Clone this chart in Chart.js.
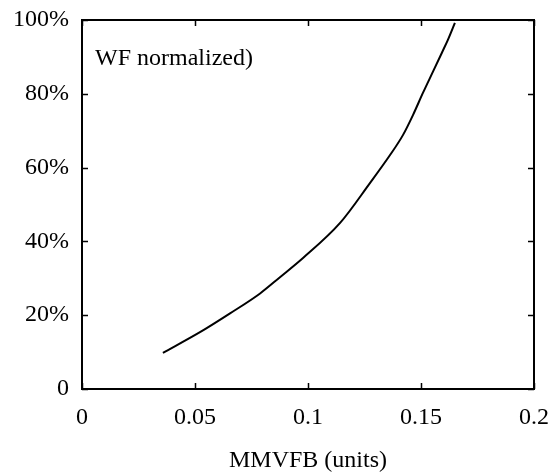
<!DOCTYPE html>
<html>
<head>
<meta charset="utf-8">
<script src="https://cdn.jsdelivr.net/npm/chart.js@4.4.1/dist/chart.umd.min.js"></script>
<style>
html,body{margin:0;padding:0;background:#fff;}
#wrap{width:548px;height:475px;}
</style>
</head>
<body>
<div id="wrap"><canvas id="c" width="548" height="475"></canvas></div>
<script>
const xValues = [0.0358, 0.0522, 0.0655, 0.0788, 0.0876, 0.0978, 0.1142, 0.1274, 0.1363, 0.1420, 0.1465, 0.1509, 0.1553, 0.1593, 0.1619, 0.1650];
const yValues = [9.8, 15.4, 20.5, 25.9, 30.3, 35.5, 45.0, 55.8, 63.4, 68.8, 74.3, 80.3, 86.0, 91.2, 94.6, 99.2];
const xTickLabels = ['0', '0.05', '0.1', '0.15', '0.2'];
const yTickLabels = ['0', '20%', '40%', '60%', '80%', '100%'];
const xTitle = 'MMVFB (units)';
const insideLabel = 'WF normalized)';

const FONT = "'Liberation Serif', 'DejaVu Serif', serif";

const framePlugin = {
  id: 'frame',
  afterDraw(chart) {
    const {ctx, chartArea: a, scales} = chart;
    ctx.save();
    ctx.strokeStyle = '#000';
    ctx.lineWidth = 2;
    ctx.strokeRect(a.left, a.top, a.right - a.left, a.bottom - a.top);
    ctx.lineWidth = 1.5;
    const tl = 6;
    scales.x.ticks.forEach(t => {
      const px = Math.round(scales.x.getPixelForValue(t.value)) + 0.5;
      ctx.beginPath();
      ctx.moveTo(px, a.bottom); ctx.lineTo(px, a.bottom - tl);
      ctx.moveTo(px, a.top); ctx.lineTo(px, a.top + tl);
      ctx.stroke();
    });
    scales.y.ticks.forEach(t => {
      const py = Math.round(scales.y.getPixelForValue(t.value)) + 0.5;
      ctx.beginPath();
      ctx.moveTo(a.left, py); ctx.lineTo(a.left + tl, py);
      ctx.moveTo(a.right, py); ctx.lineTo(a.right - tl, py);
      ctx.stroke();
    });
    ctx.fillStyle = '#000';
    ctx.font = "24px " + FONT;
    ctx.textBaseline = 'alphabetic';
    ctx.textAlign = 'left';
    ctx.fillText(insideLabel, a.left + 13, a.top + 45);
    ctx.restore();
  }
};

new Chart(document.getElementById('c'), {
  type: 'scatter',
  data: {
    datasets: [{
      data: xValues.map((x, i) => ({x: x, y: yValues[i]})),
      showLine: true,
      borderColor: '#000',
      borderWidth: 2,
      pointRadius: 0,
      cubicInterpolationMode: 'monotone',
      fill: false
    }]
  },
  options: {
    responsive: false,
    animation: false,
    devicePixelRatio: 1,
    layout: {padding: {left: 0, right: 14, top: 20, bottom: 0}},
    plugins: {legend: {display: false}, tooltip: {enabled: false}},
    scales: {
      x: {
        type: 'linear', min: 0, max: 0.2,
        afterBuildTicks: s => { s.ticks = xTickLabels.map((_, i) => ({value: i * 0.05})); },
        afterFit: s => { s.height = 86; s.paddingLeft = 0; s.paddingRight = 0; },
        grid: {display: false, drawTicks: false},
        border: {display: false},
        ticks: {
          color: '#000', padding: 14, maxRotation: 0, autoSkip: false,
          font: {family: FONT, size: 24},
          callback: (v, i) => xTickLabels[i]
        },
        title: {display: true, text: xTitle, color: '#000', font: {family: FONT, size: 24}, padding: {top: 10, bottom: 0}}
      },
      y: {
        type: 'linear', min: 0, max: 100,
        afterBuildTicks: s => { s.ticks = yTickLabels.map((_, i) => ({value: i * 20})); },
        afterFit: s => { s.width = 82; s.paddingTop = 0; s.paddingBottom = 0; },
        grid: {display: false, drawTicks: false},
        border: {display: false},
        ticks: {
          color: '#000', padding: 13, autoSkip: false,
          font: {family: FONT, size: 24},
          callback: (v, i) => yTickLabels[i]
        }
      }
    }
  },
  plugins: [framePlugin]
});
</script>
</body>
</html>
